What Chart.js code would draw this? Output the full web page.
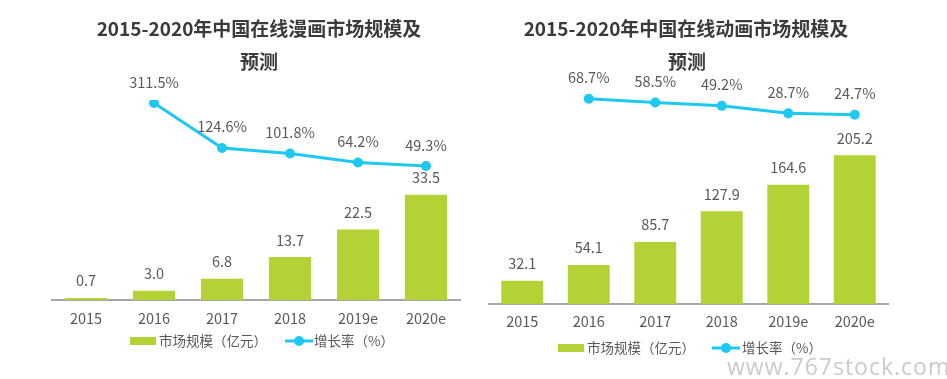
<!DOCTYPE html>
<html>
<head>
<meta charset="utf-8">
<script src="https://cdn.jsdelivr.net/npm/chart.js@4"></script>
<style>
  html, body { margin:0; padding:0; background:#fff; }
  body { width:947px; height:379px; position:relative; overflow:hidden; font-family:"Noto Sans CJK SC","Noto Sans",sans-serif; }
  canvas { position:absolute; top:0; }
  .title { position:absolute; font-weight:bold; font-size:19px; color:#3a3a3a; text-align:center; white-space:nowrap; line-height:1; transform:translate(-50%,-50%); }
  .leg { position:absolute; font-size:13.5px; color:#595959; white-space:nowrap; line-height:1; transform:translateY(-50%); }
  .box { position:absolute; background:#b2d235; height:8px; width:26px; transform:translateY(-50%); }
  .lline { position:absolute; background:#1ec8f0; height:3px; width:28px; transform:translateY(-50%); }
  .ldot { position:absolute; background:#1ec8f0; width:10px; height:10px; border-radius:50%; transform:translate(-50%,-50%); }
  .wm { position:absolute; font-family:"Open Sans","DejaVu Sans",sans-serif; font-size:23px; color:#cbcbcb; white-space:nowrap; line-height:1; letter-spacing:1px; }
</style>
</head>
<body>
<canvas id="c1" width="470" height="379" style="left:0"></canvas>
<canvas id="c2" width="477" height="379" style="left:470px"></canvas>

<div class="title" style="left:259px;top:27px">2015-2020年中国在线漫画市场规模及</div>
<div class="title" style="left:259px;top:60px">预测</div>
<div class="title" style="left:686px;top:27px">2015-2020年中国在线动画市场规模及</div>
<div class="title" style="left:687px;top:60px">预测</div>

<div class="box" style="left:130px;top:341px"></div>
<div class="leg" style="left:159px;top:341px">市场规模（亿元）</div>
<div class="lline" style="left:285px;top:341px"></div>
<div class="ldot" style="left:299px;top:341px"></div>
<div class="leg" style="left:314px;top:341px">增长率（%）</div>

<div class="box" style="left:558px;top:348px"></div>
<div class="leg" style="left:587px;top:348px">市场规模（亿元）</div>
<div class="lline" style="left:712px;top:348px"></div>
<div class="ldot" style="left:726px;top:348px"></div>
<div class="leg" style="left:742px;top:348px">增长率（%）</div>

<div class="wm" style="left:727px;top:355px">www.767stock.com</div>

<script>
const years = ['2015', '2016', '2017', '2018', '2019e', '2020e'];
const comicMarket = [0.7, 3.0, 6.8, 13.7, 22.5, 33.5];
const comicGrowth = [null, 311.5, 124.6, 101.8, 64.2, 49.3];
const animeMarket = [32.1, 54.1, 85.7, 127.9, 164.6, 205.2];
const animeGrowth = [null, 68.7, 58.5, 49.2, 28.7, 24.7];

const FONT = '"Noto Sans CJK SC","Noto Sans",sans-serif';
const GREEN = '#b2d235';
const CYAN = '#1ec8f0';

const labelPlugin = {
  id: 'valueLabels',
  afterDatasetsDraw(chart) {
    const ctx = chart.ctx;
    ctx.save();
    ctx.font = '14.5px ' + FONT;
    ctx.fillStyle = '#595959';
    ctx.textAlign = 'center';
    ctx.textBaseline = 'middle';
    chart.data.datasets.forEach((ds, i) => {
      const meta = chart.getDatasetMeta(i);
      meta.data.forEach((el, j) => {
        const v = ds.data[j];
        if (v === null || v === undefined) return;
        if (ds.type === 'bar') {
          ctx.fillText(v.toFixed(1), el.x, el.y - 17);
        } else {
          ctx.fillText(v.toFixed(1) + '%', el.x, el.y - 21);
        }
      });
    });
    ctx.restore();
  }
};

function makeChart(id, bars, growth, g) {
  return new Chart(document.getElementById(id), {
    data: {
      labels: years,
      datasets: [
        { type: 'line', label: '增长率（%）', data: growth, yAxisID: 'y1', order: 0,
          borderColor: CYAN, backgroundColor: CYAN, borderWidth: 3,
          pointRadius: 5, pointBackgroundColor: CYAN, pointBorderWidth: 0, tension: 0, spanGaps: false },
        { type: 'bar', label: '市场规模（亿元）', data: bars, yAxisID: 'y', order: 1,
          backgroundColor: GREEN, borderWidth: 0, barPercentage: g.barPct, categoryPercentage: 1 }
      ]
    },
    options: {
      responsive: false,
      devicePixelRatio: 1,
      animation: false,
      layout: { padding: { left: g.left, right: g.right, top: g.top, bottom: g.bottom } },
      plugins: { legend: { display: false }, title: { display: false }, tooltip: { enabled: false } },
      scales: {
        x: {
          offset: true,
          grid: { display: false, drawTicks: false },
          border: { display: true, color: '#a6a6a6', width: 2 },
          ticks: { color: '#595959', font: { size: 14.5, family: FONT }, padding: g.tickPad }
        },
        y: { display: false, min: 0, max: g.barMax },
        y1: { display: false, min: g.lineMin, max: g.lineMax }
      }
    },
    plugins: [labelPlugin]
  });
}

makeChart('c1', comicMarket, comicGrowth,
  { left: 52, right: 10, top: 100, bottom: 41.5, tickPad: 10, barPct: 0.62, barMax: 63.7, lineMin: -508.3, lineMax: 324 });
makeChart('c2', animeMarket, animeGrowth,
  { left: 19, right: 59, top: 90, bottom: 39.5, tickPad: 9, barPct: 0.63, barMax: 295.3, lineMin: -493.2, lineMax: 92.6 });
</script>
</body>
</html>
